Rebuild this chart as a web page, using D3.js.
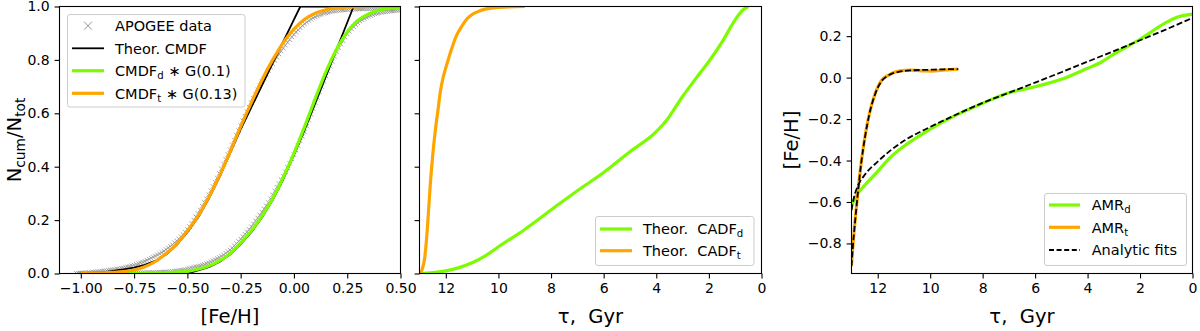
<!DOCTYPE html>
<meta charset="utf-8">
<style>
body { margin: 0; background: #fff; }
svg { font-family: "DejaVu Sans", sans-serif; }
text { white-space: pre; }
</style>
<svg id="chart" width="1200" height="331"></svg>
<script src="https://cdn.jsdelivr.net/npm/d3@7/dist/d3.min.js"></script>
<script>

// ---- panel 1: cumulative MDFs ----
var fehGrid = [-1.02,-1.01,-1.00,
  -0.99,-0.98,-0.97,-0.96,-0.95,-0.94,-0.93,-0.92,-0.91,-0.90,
  -0.89,-0.88,-0.87,-0.86,-0.85,-0.84,-0.83,-0.82,-0.81,-0.80,
  -0.79,-0.78,-0.77,-0.76,-0.75,-0.74,-0.73,-0.72,-0.71,-0.70,
  -0.69,-0.68,-0.67,-0.66,-0.65,-0.64,-0.63,-0.62,-0.61,-0.60,
  -0.59,-0.58,-0.57,-0.56,-0.55,-0.54,-0.53,-0.52,-0.51,-0.50,
  -0.49,-0.48,-0.47,-0.46,-0.45,-0.44,-0.43,-0.42,-0.41,-0.40,
  -0.39,-0.38,-0.37,-0.36,-0.35,-0.34,-0.33,-0.32,-0.31,-0.30,
  -0.29,-0.28,-0.27,-0.26,-0.25,-0.24,-0.23,-0.22,-0.21,-0.20,
  -0.19,-0.18,-0.17,-0.16,-0.15,-0.14,-0.13,-0.12,-0.11,-0.10,
  -0.09,-0.08,-0.07,-0.06,-0.05,-0.04,-0.03,-0.02,-0.01,0.00,
  0.01,0.02,0.03,0.04,0.05,0.06,0.07,0.08,0.09,0.10,
  0.11,0.12,0.13,0.14,0.15,0.16,0.17,0.18,0.19,0.20,
  0.21,0.22,0.23,0.24,0.25,0.26,0.27,0.28,0.29,0.30,
  0.31,0.32,0.33,0.34,0.35,0.36,0.37,0.38,0.39,0.40,
  0.41,0.42,0.43,0.44,0.45,0.46,0.47,0.48,0.49,0.50];

var apogeeThick = [0.000,0.001,0.002,
  .002,.003,.003,.004,.005,.006,.006,.007,.008,.009,
  .010,.011,.012,.013,.014,.015,.017,.018,.020,.021,
  .023,.025,.027,.029,.031,.034,.037,.040,.043,.046,
  .050,.054,.058,.062,.066,.070,.074,.079,.084,.090,
  .096,.102,.108,.115,.122,.130,.138,.146,.155,.165,
  .176,.188,.200,.212,.225,.238,.252,.266,.280,.295,
  .310,.326,.342,.358,.375,.392,.410,.428,.446,.464,
  .482,.500,.518,.536,.554,.572,.589,.606,.623,.640,
  .656,.672,.688,.703,.718,.732,.746,.760,.773,.786,
  .798,.810,.822,.833,.844,.855,.866,.876,.886,.895,
  .904,.912,.920,.928,.935,.941,.947,.952,.957,.961,
  .965,.968,.971,.974,.976,.978,.980,.982,.983,.984,
  .985,.986,.987,.988,.988,.989,.989,.990,.990,.990,
  .991,.991,.991,.991,.991,.992,.992,.992,.992,.992,
  .992,.992,.992,.993,.993,.993,.993,.993,.993,.993];

var apogeeThin = [0.000,0.000,0.000,
  .000,.000,.000,.000,.000,.001,.001,.001,.001,.001,
  .001,.001,.001,.001,.001,.002,.002,.002,.002,.002,
  .002,.002,.002,.002,.003,.003,.003,.003,.003,.003,
  .003,.004,.004,.004,.004,.005,.005,.005,.006,.006,
  .007,.007,.008,.009,.010,.011,.012,.013,.015,.017,
  .019,.021,.023,.025,.027,.029,.032,.034,.037,.040,
  .044,.048,.052,.056,.060,.065,.070,.076,.082,.088,
  .096,.104,.112,.120,.129,.138,.147,.156,.165,.175,
  .186,.197,.208,.219,.230,.242,.254,.266,.280,.295,
  .309,.323,.337,.351,.365,.381,.397,.413,.429,.445,
  .462,.479,.496,.513,.530,.552,.574,.596,.618,.640,
  .660,.680,.700,.720,.740,.758,.776,.794,.812,.830,
  .845,.859,.872,.885,.897,.907,.916,.924,.932,.939,
  .945,.950,.955,.959,.963,.966,.969,.972,.974,.976,
  .978,.979,.980,.981,.982,.983,.984,.985,.985,.986];

var cmdfThickFeh = [-1.0,-0.9,-0.8,-0.75,-0.7,-0.65,-0.6,-0.55,-0.5,-0.45,-0.4,-0.35,-0.3,-0.25,-0.2,-0.1,0.0,0.03,0.5];
var cmdfThick    = [0,.004,.015,.022,.032,.047,.071,.107,.155,.21,.28,.36,.45,.54,.622,.787,.951,1.0,1.0];
var cmdfThinFeh  = [-1.0,-0.5,-0.45,-0.4,-0.35,-0.3,-0.25,-0.2,-0.15,-0.1,-0.05,0.0,0.05,0.1,0.2,0.28,0.5];
var cmdfThin     = [0,0,.012,.024,.043,.071,.11,.155,.21,.275,.353,.443,.538,.638,.839,1.0,1.0];

var convFeh = [-1.0,-0.95,-0.9,-0.85,-0.8,-0.75,-0.7,-0.65,-0.6,-0.55,-0.5,-0.45,-0.4,-0.35,-0.3,-0.25,
  -0.2,-0.15,-0.1,-0.05,0.0,0.05,0.1,0.15,0.2,0.25,0.3,0.35,0.4,0.45,0.5];
var cmdfThinConv  = [0,0,0,0,0,.001,.001,.002,.003,.005,.008,.016,.028,.047,.075,.115,
  .16,.215,.28,.36,.45,.55,.655,.755,.84,.905,.948,.972,.987,.994,.997];
var cmdfThickConv = [0,.001,.002,.004,.007,.013,.025,.045,.075,.11,.16,.215,.285,.365,.455,.55,
  .64,.725,.80,.865,.915,.952,.975,.988,.995,.998,.999,1,1,1,1];

// ---- panel 2: cumulative age distributions ----
var cadfThinTau = [13.0,12.5,12.0,11.5,11.0,10.5,10.0,9.0,8.0,7.0,6.0,5.0,4.0,3.6,3.0,2.5,2.0,1.45,1.08,0.7,0.5];
var cadfThin    = [0,.003,.01,.022,.04,.066,.10,.165,.238,.31,.378,.456,.531,.575,.663,.73,.794,.875,.938,.988,1.0];
var cadfThickTau = [13.0,12.9,12.8,12.7,12.6,12.5,12.4,12.3,12.2,12.1,12.0,11.8,11.6,11.4,11.2,11.0,10.8,10.5,10.0,9.0];
var cadfThick    = [0,.015,.06,.17,.32,.44,.535,.61,.685,.735,.77,.835,.89,.925,.953,.97,.98,.99,.997,1.0];

// ---- panel 3: age-metallicity relations ----
var amrThinTau = [13.0,12.9,12.76,12.5,12.0,11.5,11.0,10.0,9.0,8.0,7.0,6.0,5.0,4.0,3.5,3.0,2.0,1.0,0.62,0.0];
var amrThin    = [-0.613,-0.59,-0.56,-0.52,-0.452,-0.383,-0.331,-0.249,-0.18,-0.124,-0.073,-0.044,-0.008,0.045,0.073,0.113,0.185,0.266,0.29,0.306];
var amrThickTau = [13.0,12.95,12.86,12.76,12.63,12.48,12.32,12.1,11.85,11.6,11.2,10.7,10.2,9.95,9.44,8.93];
var amrThick    = [-0.906,-0.817,-0.687,-0.557,-0.411,-0.281,-0.175,-0.078,-0.013,0.011,0.031,0.036,0.032,0.031,0.037,0.041];
var fitThinTau = [13.0,12.9,12.75,12.5,12.0,11.5,11.0,10.0,9.0,8.0,7.0,6.0,5.0,4.0,3.0,2.0,1.0,0.0];
var fitThin    = [-0.64,-0.575,-0.52,-0.47,-0.405,-0.35,-0.305,-0.238,-0.178,-0.122,-0.073,-0.024,0.026,0.077,0.128,0.18,0.233,0.288];
var fitThickTau = [13.0,12.95,12.86,12.76,12.63,12.48,12.32,12.1,11.85,11.6,11.2,10.7,10.0,9.5,8.93];
var fitThick    = [-0.91,-0.82,-0.69,-0.56,-0.413,-0.283,-0.177,-0.08,-0.016,0.01,0.028,0.035,0.038,0.04,0.041];

var fehTicks = [-1.0,-0.75,-0.5,-0.25,0,0.25,0.5];
var fracTicks = [0,0.2,0.4,0.6,0.8,1.0];
var tauTicks = [12,10,8,6,4,2,0];
var amrTicks = [-0.8,-0.6,-0.4,-0.2,0,0.2];

var green = '#7cfc00', orange = '#ffa500', gray = '#999999';
var yTop = 6.5, yBot = 273.5;

var svg = d3.select('#chart');

function panel(id, left, right, xDomain, yDomain) {
    var x = d3.scaleLinear().domain(xDomain).range([left, right]);
    var y = d3.scaleLinear().domain(yDomain).range([yBot, yTop]);
    var g = svg.append('g');
    svg.append('clipPath').attr('id', id).append('rect')
        .attr('x', left).attr('y', yTop)
        .attr('width', right - left).attr('height', yBot - yTop);
    var plot = g.append('g').attr('clip-path', 'url(#' + id + ')');
    return {x: x, y: y, g: g, plot: plot, left: left, right: right};
}

function drawLine(p, xs, ys, color, width, dash, curve) {
    var pts = xs.map(function(d, i) { return [d, ys[i]]; });
    var line = d3.line()
        .x(function(d) { return p.x(d[0]); })
        .y(function(d) { return p.y(d[1]); })
        .curve(curve || d3.curveMonotoneX);
    p.plot.append('path').datum(pts)
        .attr('d', line)
        .attr('fill', 'none')
        .attr('stroke', color)
        .attr('stroke-width', width)
        .attr('stroke-dasharray', dash || null)
        .attr('stroke-linejoin', 'round');
}

var xMark = 'M-2.2,-2.2L2.2,2.2M-2.2,2.2L2.2,-2.2';

function drawMarkers(p, xs, ys) {
    p.plot.append('g').selectAll('path').data(xs).enter().append('path')
        .attr('d', xMark)
        .attr('transform', function(d, i) { return 'translate(' + p.x(d) + ',' + p.y(ys[i]) + ')'; })
        .attr('stroke', gray)
        .attr('stroke-width', 0.9)
        .attr('fill', 'none');
}

function styleAxis(sel) {
    sel.select('.domain').remove();
    sel.attr('font-family', null).attr('font-size', null);
    sel.selectAll('line').attr('stroke', '#000').attr('stroke-width', 1.1);
    sel.selectAll('text').attr('fill', '#000').style('font-size', '14px');
}

function frame(p, xTicks, xFmt, yTicks, yFmt) {
    var ax = d3.axisBottom(p.x).tickValues(xTicks).tickFormat(xFmt)
        .tickSize(4.9).tickPadding(4.9);
    p.g.append('g').attr('transform', 'translate(0,' + yBot + ')').call(ax).call(styleAxis);
    var ay = d3.axisLeft(p.y).tickValues(yTicks).tickFormat(yFmt)
        .tickSize(4.9).tickPadding(4.9);
    p.g.append('g').attr('transform', 'translate(' + p.left + ',0)').call(ay).call(styleAxis);
    p.g.append('rect')
        .attr('x', p.left).attr('y', yTop)
        .attr('width', p.right - p.left).attr('height', yBot - yTop)
        .attr('fill', 'none').attr('stroke', '#000').attr('stroke-width', 1.1);
}

// parts: list of [text, isSub]
function richText(sel, parts, size) {
    var shift = 0;
    parts.forEach(function(pt) {
        var sub = pt[1];
        var dy = sub ? size * 0.22 - shift : -shift;
        shift = sub ? size * 0.22 : 0;
        sel.append('tspan')
            .attr('dy', dy)
            .style('font-size', (sub ? size * 0.7 : size) + 'px')
            .text(pt[0]);
    });
}

function legend(box, items) {
    var g = svg.append('g');
    g.append('rect')
        .attr('x', box[0]).attr('y', box[1]).attr('width', box[2]).attr('height', box[3])
        .attr('rx', 2.5).attr('fill', '#fff').attr('fill-opacity', 0.8)
        .attr('stroke', '#cccccc').attr('stroke-width', 1);
    items.forEach(function(it) {
        if (it.marker) {
            g.append('path').attr('d', 'M-4,-4L4,4M-4,4L4,-4')
                .attr('transform', 'translate(' + (it.x0 + it.x1) / 2 + ',' + it.y + ')')
                .attr('stroke', it.color).attr('stroke-width', 1).attr('fill', 'none');
        } else {
            g.append('line')
                .attr('x1', it.x0).attr('x2', it.x1).attr('y1', it.y).attr('y2', it.y)
                .attr('stroke', it.color).attr('stroke-width', it.width)
                .attr('stroke-dasharray', it.dash || null);
        }
        var t = g.append('text').attr('x', it.tx).attr('y', it.y + 5.2).attr('fill', '#000');
        richText(t, it.label, 14.5);
    });
}

// ---------- panel 1 ----------
var p1 = panel('clip1', 59.5, 400.5, [-1.1, 0.5], [0, 1]);
drawMarkers(p1, fehGrid, apogeeThick);
drawMarkers(p1, fehGrid, apogeeThin);
drawLine(p1, cmdfThickFeh, cmdfThick, '#000', 1.8, null, d3.curveLinear);
drawLine(p1, cmdfThinFeh, cmdfThin, '#000', 1.8, null, d3.curveLinear);
drawLine(p1, convFeh, cmdfThinConv, green, 3.2);
drawLine(p1, convFeh, cmdfThickConv, orange, 3.2);
frame(p1, fehTicks, d3.format('.2f'), fracTicks, d3.format('.1f'));

legend([67.5, 14.5, 177.5, 92.5], [
    {marker: true, color: gray, x0: 72, x1: 104, y: 25.7, tx: 115, label: [['APOGEE data']]},
    {color: '#000', width: 1.8, x0: 72, x1: 104, y: 48.3, tx: 115, label: [['Theor. CMDF']]},
    {color: green, width: 3.2, x0: 72, x1: 104, y: 70.7, tx: 115, label: [['CMDF'], ['d', true], [' \u2217 G(0.1)']]},
    {color: orange, width: 3.2, x0: 72, x1: 104, y: 93.3, tx: 115, label: [['CMDF'], ['t', true], [' \u2217 G(0.13)']]}
]);

// ---------- panel 2 ----------
var p2 = panel('clip2', 419.5, 761.5, [13, 0], [0, 1]);
drawLine(p2, cadfThinTau, cadfThin, green, 3.2);
drawLine(p2, cadfThickTau, cadfThick, orange, 3.2);
frame(p2, tauTicks, d3.format('d'), fracTicks, function() { return ''; });

legend([595.5, 216.5, 158.5, 49], [
    {color: green, width: 3.2, x0: 600, x1: 632, y: 229, tx: 643, label: [['Theor.  CADF'], ['d', true]]},
    {color: orange, width: 3.2, x0: 600, x1: 632, y: 250.7, tx: 643, label: [['Theor.  CADF'], ['t', true]]}
]);

// ---------- panel 3 ----------
var p3 = panel('clip3', 851.5, 1192.5, [13, 0], [-0.945, 0.343]);
drawLine(p3, amrThinTau, amrThin, green, 3.2);
drawLine(p3, amrThickTau, amrThick, orange, 3.2);
drawLine(p3, fitThinTau, fitThin, '#000', 1.8, '6,2.6');
drawLine(p3, fitThickTau, fitThick, '#000', 1.8, '6,2.6');
frame(p3, tauTicks, d3.format('d'), amrTicks, d3.format('.1f'));

legend([1044.5, 193.5, 142, 72], [
    {color: green, width: 3.2, x0: 1049, x1: 1080, y: 205, tx: 1091.7, label: [['AMR'], ['d', true]]},
    {color: orange, width: 3.2, x0: 1049, x1: 1080, y: 227.3, tx: 1091.7, label: [['AMR'], ['t', true]]},
    {color: '#000', width: 1.8, dash: '5,2.6', x0: 1049, x1: 1080, y: 250, tx: 1091.7, label: [['Analytic fits']]}
]);

// ---------- axis labels ----------
function axisLabel(x, y, rot, parts) {
    var t = svg.append('text')
        .attr('text-anchor', 'middle')
        .attr('fill', '#000')
        .attr('transform', 'translate(' + x + ',' + y + ')' + (rot ? ' rotate(-90)' : ''));
    richText(t, parts, 19.6);
}
axisLabel(230, 322.5, false, [['[Fe/H]']]);
axisLabel(590.5, 322.5, false, [['\u03c4,  Gyr']]);
axisLabel(1022, 322.5, false, [['\u03c4,  Gyr']]);
axisLabel(20.7, 140, true, [['N'], ['cum', true], ['/N'], ['tot', true]]);
axisLabel(797.5, 140, true, [['[Fe/H]']]);

</script>
